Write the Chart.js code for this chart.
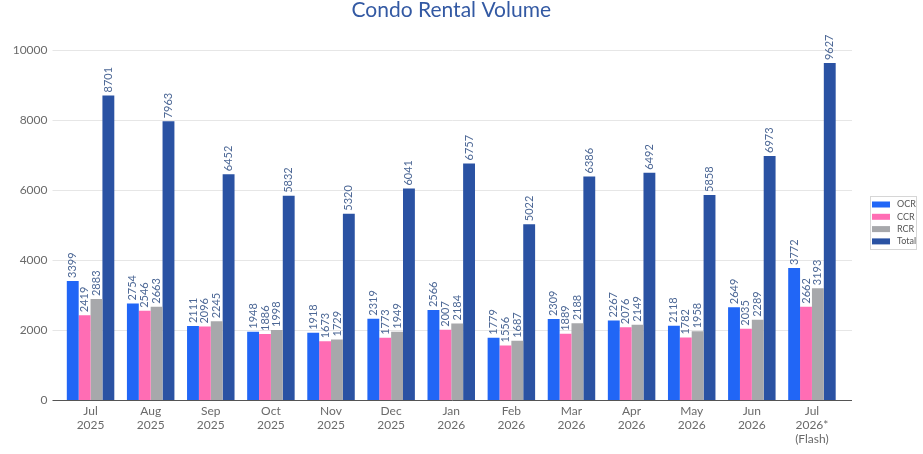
<!DOCTYPE html>
<html>
<head>
<meta charset="utf-8">
<title>Condo Rental Volume</title>
<script src="https://cdn.jsdelivr.net/npm/chart.js@4"></script>
<style>
  html, body { margin: 0; padding: 0; background: #fff; }
  #wrap { width: 923px; height: 454px; }
</style>
</head>
<body>
<div id="wrap"><canvas id="rentalChart"></canvas></div>
<script>
'use strict';

// Months (multi-line tick labels)
var months = [
    ['Jul', '2025'], ['Aug', '2025'], ['Sep', '2025'], ['Oct', '2025'],
    ['Nov', '2025'], ['Dec', '2025'], ['Jan', '2026'], ['Feb', '2026'],
    ['Mar', '2026'], ['Apr', '2026'], ['May', '2026'], ['Jun', '2026'],
    ['Jul', '2026*', '(Flash)']
];

var ocr   = [3399, 2754, 2111, 1948, 1918, 2319, 2566, 1779, 2309, 2267, 2118, 2649, 3772];
var ccr   = [2419, 2546, 2096, 1886, 1673, 1773, 2007, 1556, 1889, 2076, 1782, 2035, 2662];
var rcr   = [2883, 2663, 2245, 1998, 1729, 1949, 2184, 1687, 2188, 2149, 1958, 2289, 3193];
var total = [8701, 7963, 6452, 5832, 5320, 6041, 6757, 5022, 6386, 6492, 5858, 6973, 9627];

var yTicks = [0, 2000, 4000, 6000, 8000, 10000];

var FONT = 'Lato, "Noto Sans", sans-serif';

// Light grid lines that run a bit past the plot area, plus the base line
var gridPlugin = {
    id: 'gridLines',
    beforeDatasetsDraw: function(chart) {
        var ctx = chart.ctx, a = chart.chartArea, y = chart.scales.y;
        ctx.save();
        ctx.lineWidth = 1;
        ctx.strokeStyle = '#e6e6e6';
        yTicks.forEach(function(v) {
            if (v === 0) return;
            var py = Math.round(y.getPixelForValue(v)) + 0.5;
            ctx.beginPath();
            ctx.moveTo(a.left - 8, py);
            ctx.lineTo(a.right + 10, py);
            ctx.stroke();
        });
        ctx.restore();
    },
    afterDatasetsDraw: function(chart) {
        var ctx = chart.ctx, a = chart.chartArea, y = chart.scales.y;
        var py = Math.round(y.getPixelForValue(0)) + 0.5;
        ctx.save();
        ctx.strokeStyle = '#555';
        ctx.lineWidth = 1;
        ctx.beginPath();
        ctx.moveTo(a.left - 8, py);
        ctx.lineTo(a.right + 10, py);
        ctx.stroke();
        ctx.restore();
    }
};

// Rotated value labels on top of each bar
var valuePlugin = {
    id: 'valueLabels',
    afterDatasetsDraw: function(chart) {
        var ctx = chart.ctx;
        ctx.save();
        ctx.font = '11px ' + FONT;
        ctx.fillStyle = '#4d6896';
        ctx.textAlign = 'left';
        ctx.textBaseline = 'middle';
        chart.data.datasets.forEach(function(ds, i) {
            chart.getDatasetMeta(i).data.forEach(function(bar, j) {
                ctx.save();
                ctx.translate(bar.x, bar.y - 3);
                ctx.rotate(-Math.PI / 2);
                ctx.fillText(String(ds.data[j]), 0, 0);
                ctx.restore();
            });
        });
        ctx.restore();
    }
};

// Small boxed legend on the right
var legendPlugin = {
    id: 'boxLegend',
    afterDraw: function(chart) {
        var ctx = chart.ctx;
        var x = 870, y = 196, w = 46, h = 53;
        ctx.save();
        ctx.fillStyle = '#fff';
        ctx.fillRect(x, y, w, h);
        ctx.strokeStyle = '#d6d6d6';
        ctx.lineWidth = 1;
        ctx.strokeRect(x + 0.5, y + 0.5, w, h);
        ctx.font = '9px ' + FONT;
        ctx.textBaseline = 'middle';
        ctx.textAlign = 'left';
        chart.data.datasets.forEach(function(ds, i) {
            var cy = y + 8.5 + i * 12.3;
            ctx.fillStyle = ds.backgroundColor;
            ctx.fillRect(x + 2, cy - 3, 18, 6);
            ctx.fillStyle = '#555';
            ctx.fillText(ds.label, x + 27, cy);
        });
        ctx.restore();
    }
};

var ctx = document.getElementById('rentalChart');

var rentalChart = new Chart(ctx, {
    type: 'bar',
    data: {
        labels: months,
        datasets: [
            { label: 'OCR',   data: ocr,   backgroundColor: '#2166f6', borderWidth: 0 },
            { label: 'CCR',   data: ccr,   backgroundColor: '#ff6db4', borderWidth: 0 },
            { label: 'RCR',   data: rcr,   backgroundColor: '#a7a8ab', borderWidth: 0 },
            { label: 'Total', data: total, backgroundColor: '#2a52a3', borderWidth: 0 }
        ]
    },
    options: {
        responsive: true,
        maintainAspectRatio: false,
        animation: false,
        layout: {
            padding: { left: 0, right: 81, top: 0, bottom: 4 }
        },
        datasets: {
            bar: { barPercentage: 1.0, categoryPercentage: 0.79 }
        },
        scales: {
            x: {
                grid: { display: false, drawTicks: false },
                border: { display: false },
                ticks: {
                    color: '#6a6a6a',
                    font: { family: FONT, size: 12, lineHeight: 1.17 },
                    padding: 4,
                    maxRotation: 0,
                    autoSkip: false
                }
            },
            y: {
                min: 0,
                max: 10000,
                afterFit: function(scale) { scale.width = 60.5; },
                afterBuildTicks: function(scale) {
                    scale.ticks = yTicks.map(function(v) { return { value: v }; });
                },
                grid: { display: false, drawTicks: false },
                border: { display: false },
                ticks: {
                    color: '#6a6a6a',
                    font: { family: FONT, size: 12 },
                    padding: 13,
                    callback: function(value) { return String(value); }
                }
            }
        },
        plugins: {
            legend: { display: false },
            tooltip: { enabled: false },
            title: {
                display: true,
                text: 'Condo Rental Volume',
                fullSize: false,
                color: '#3359a3',
                font: { family: FONT, size: 21, weight: 'normal', lineHeight: 1.0 },
                padding: { top: 0, bottom: 29 }
            }
        }
    },
    plugins: [gridPlugin, valuePlugin, legendPlugin]
});
</script>
</body>
</html>
